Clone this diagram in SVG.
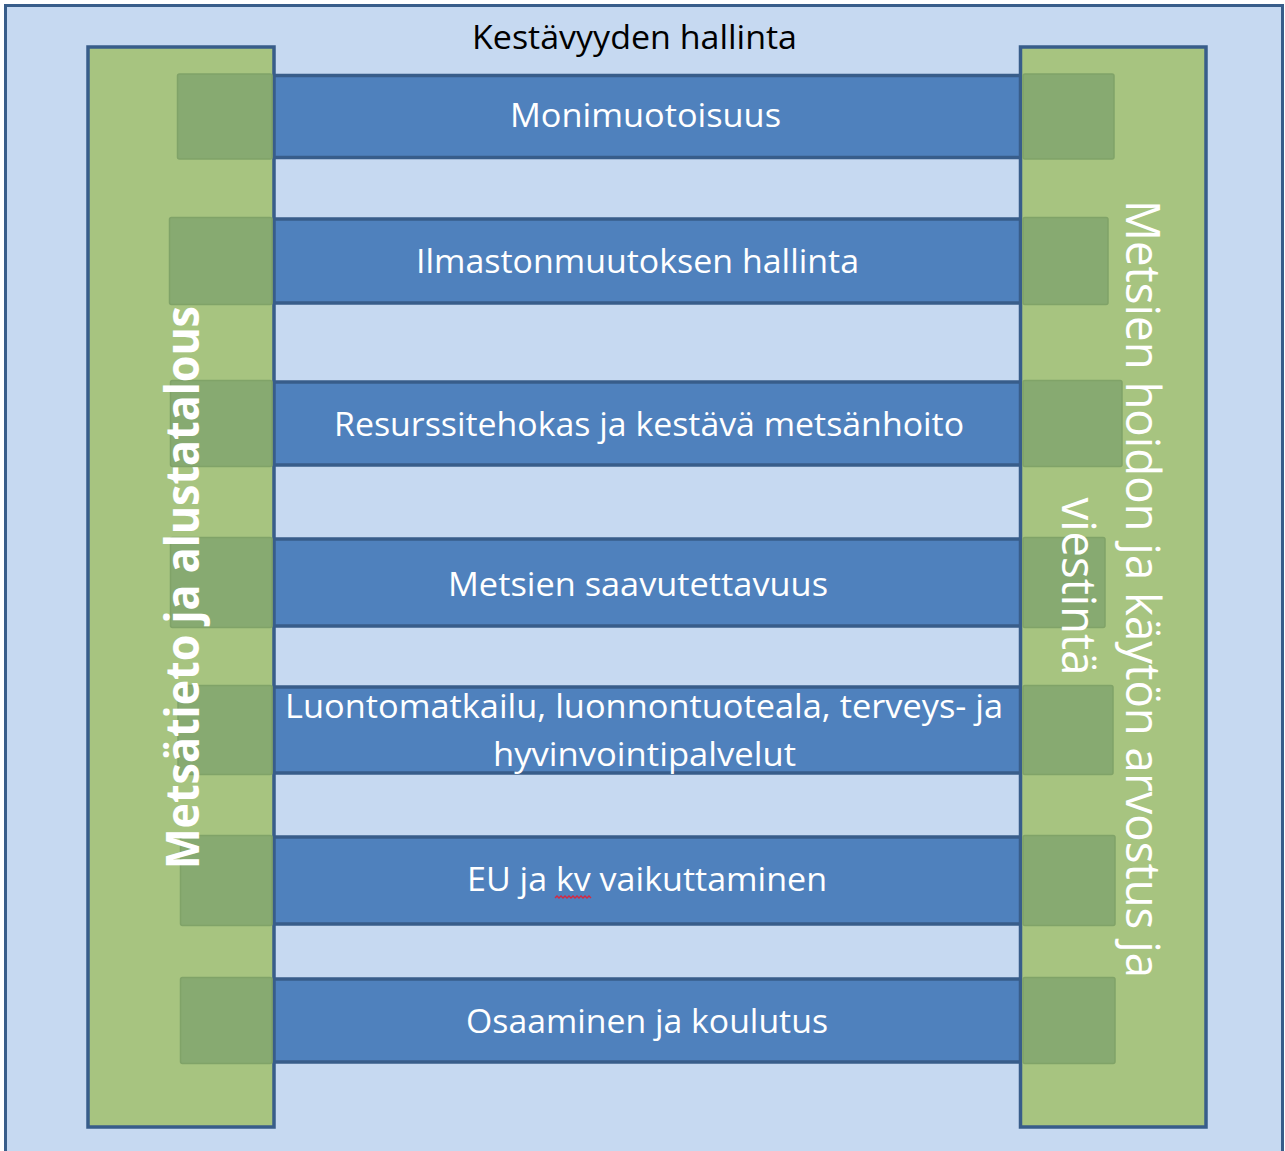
<svg xmlns="http://www.w3.org/2000/svg" width="1285" height="1151" viewBox="0 0 1285 1151">
<style>
.frame{fill:#C6D9F1;stroke:#385D8A;stroke-width:3}
.bar{fill:#4F81BD;stroke:#385D8A;stroke-width:3.5}
.col{fill:#A7C480;stroke:#385D8A;stroke-width:3.5}
.patch{fill:#87AA71;stroke:#80A368;stroke-width:1.5}
.t{font-family:"Open Sans","Noto Sans","DejaVu Sans",sans-serif;font-size:32px;fill:#FFFFFF;text-anchor:middle}
.title{fill:#000000}
.lbl{font-size:47px}
.bold{font-weight:bold}
</style>
<rect id="frame" class="frame" x="5.5" y="5.5" width="1277" height="1160"/>
<text id="title" class="t title" x="634.5" y="49" textLength="325" lengthAdjust="spacingAndGlyphs">Kestävyyden hallinta</text>

<g id="bars">
  <g id="bar1"><rect class="bar" x="180" y="75.5" width="930" height="82"/></g>
  <g id="bar2"><rect class="bar" x="180" y="219" width="930" height="84"/></g>
  <g id="bar3"><rect class="bar" x="180" y="382" width="930" height="83"/></g>
  <g id="bar4"><rect class="bar" x="180" y="539" width="930" height="87"/></g>
  <g id="bar5"><rect class="bar" x="180" y="687" width="930" height="86"/></g>
  <g id="bar6"><rect class="bar" x="180" y="837" width="930" height="87"/></g>
  <g id="bar7"><rect class="bar" x="180" y="979" width="930" height="83"/></g>
</g>

<g id="col-left"><rect class="col" x="88" y="47" width="186" height="1080"/></g>
<g id="col-right"><rect class="col" x="1020.5" y="47" width="185.5" height="1080"/></g>

<g id="patches">
  <rect class="patch" x="177.5" y="74" width="94.5" height="85" rx="2"/>
  <rect class="patch" x="1023" y="74" width="91" height="85" rx="2"/>
  <rect class="patch" x="169.5" y="217.5" width="102.5" height="87" rx="2"/>
  <rect class="patch" x="1023" y="217.5" width="85" height="87" rx="2"/>
  <rect class="patch" x="170.5" y="380.5" width="101.5" height="86" rx="2"/>
  <rect class="patch" x="1023" y="380.5" width="99" height="86" rx="2"/>
  <rect class="patch" x="170.5" y="537.5" width="101.5" height="90" rx="2"/>
  <rect class="patch" x="1023" y="537.5" width="82" height="90" rx="2"/>
  <rect class="patch" x="178" y="685.5" width="94" height="89" rx="2"/>
  <rect class="patch" x="1023" y="685.5" width="90" height="89" rx="2"/>
  <rect class="patch" x="180.5" y="835.5" width="91.5" height="90" rx="2"/>
  <rect class="patch" x="1023" y="835.5" width="92" height="90" rx="2"/>
  <rect class="patch" x="180.5" y="977.5" width="91.5" height="86" rx="2"/>
  <rect class="patch" x="1023" y="977.5" width="92" height="86" rx="2"/>
</g>

<g id="labels">
  <text class="t" x="645.5" y="127" textLength="271" lengthAdjust="spacingAndGlyphs">Monimuotoisuus</text>
  <text class="t" x="637.5" y="273" textLength="443" lengthAdjust="spacingAndGlyphs">Ilmastonmuutoksen hallinta</text>
  <text class="t" x="649" y="436" textLength="630" lengthAdjust="spacingAndGlyphs">Resurssitehokas ja kestävä metsänhoito</text>
  <text class="t" x="638" y="596" textLength="380" lengthAdjust="spacingAndGlyphs">Metsien saavutettavuus</text>
  <text class="t" x="644" y="718" textLength="718" lengthAdjust="spacingAndGlyphs">Luontomatkailu, luonnontuoteala, terveys- ja</text>
  <text class="t" x="644.5" y="766" textLength="303" lengthAdjust="spacingAndGlyphs">hyvinvointipalvelut</text>
  <text class="t" x="647" y="891" textLength="360" lengthAdjust="spacingAndGlyphs">EU ja kv vaikuttaminen</text>
  <path d="M555 898 l2 -2 l2 2 l2 -2 l2 2 l2 -2 l2 2 l2 -2 l2 2 l2 -2 l2 2 l2 -2 l2 2 l2 -2 l2 2 l2 -2 l2 2 l2 -2 l2 2" fill="none" stroke="#D9263F" stroke-width="1.3"/>
  <text class="t" x="647" y="1033" textLength="362" lengthAdjust="spacingAndGlyphs">Osaaminen ja koulutus</text>
</g>

<g id="col-labels">
  <text class="t lbl bold" transform="translate(199,587.5) rotate(-90)" x="0" y="0" textLength="563" lengthAdjust="spacingAndGlyphs">Metsätieto ja alustatalous</text>
  <text class="t lbl" transform="translate(1126,589) rotate(90)" x="0" y="0" textLength="778" lengthAdjust="spacingAndGlyphs">Metsien hoidon ja käytön arvostus ja</text>
  <text class="t lbl" transform="translate(1062,586.5) rotate(90)" x="0" y="0" textLength="178" lengthAdjust="spacingAndGlyphs">viestintä</text>
</g>
</svg>
